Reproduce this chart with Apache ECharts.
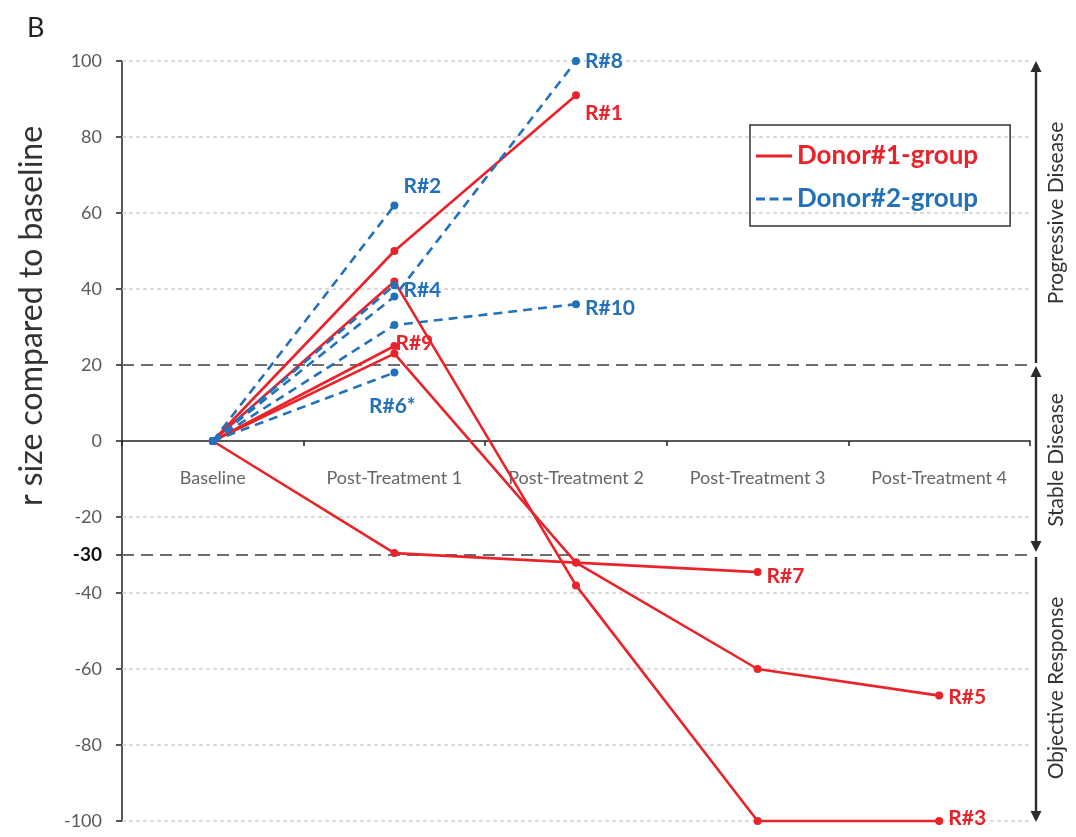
<!DOCTYPE html>
<html>
<head>
<meta charset="utf-8">
<script src="https://cdn.jsdelivr.net/npm/echarts@6/dist/echarts.min.js"></script>
<style>
  html, body { margin: 0; padding: 0; background: #ffffff; }
  #chart { width: 1076px; height: 837px; }
</style>
</head>
<body>
<div id="chart"></div>
<script>
// Time points along the x axis
const categories = ['Baseline', 'Post-Treatment 1', 'Post-Treatment 2', 'Post-Treatment 3', 'Post-Treatment 4'];

// Y axis tick values and reference levels
const yTicks = [100, 80, 60, 40, 20, 0, -20, -30, -40, -60, -80, -100];
const dottedLevels = [100, 80, 60, 40, -20, -40, -60, -80, -100];
const thresholdLevels = [20, -30];

// Donor#1 group: change in size (%) per time point
const r1 = [0, 50, 91];
const r3 = [0, 42, -38, -100, -100];
const r5 = [0, 23, -32, -60, -67];
const r7 = [0, -29.5, -32, -34.5];
const r9 = [0, 25];

// Donor#2 group
const r2 = [0, 62];
const r4 = [0, 41];
const r6 = [0, 18];
const r8 = [0, 38, 100];
const r10 = [0, 30.5, 36];

const donor1Names = ['R#1', 'R#3', 'R#5', 'R#7', 'R#9'];
const donor1Values = [r1, r3, r5, r7, r9];
const donor2Names = ['R#2', 'R#4', 'R#6*', 'R#8', 'R#10'];
const donor2Values = [r2, r4, r6, r8, r10];

const RED = '#e8232a';
const BLUE = '#2271b9';
const FONT = 'Lato, "Open Sans", sans-serif';

// Where each end label sits relative to its last point
const labelPlacement = {
  'R#1':  { position: 'right', offset: [0, 18] },
  'R#3':  { position: 'right', offset: [0, -3] },
  'R#5':  { position: 'right', offset: [0, 2] },
  'R#7':  { position: 'right', offset: [0, 4] },
  'R#9':  { position: 'right', offset: [-8, -3] },
  'R#2':  { position: 'right', offset: [0, -19] },
  'R#4':  { position: 'right', offset: [0, 5] },
  'R#6*': { position: 'bottom', offset: [-2, 14] },
  'R#8':  { position: 'right', offset: [0, 0] },
  'R#10': { position: 'right', offset: [0, 4] }
};

function buildSeries(groupName, names, valuesList, color, dashed) {
  return names.map(function (label, k) {
    const values = valuesList[k];
    const place = labelPlacement[label];
    return {
      name: groupName,
      type: 'line',
      z: dashed ? 4 : 3,
      clip: false,
      symbol: 'circle',
      symbolSize: 8,
      showSymbol: true,
      lineStyle: { color: color, width: 2.6, type: dashed ? [9, 6] : 'solid' },
      itemStyle: { color: color },
      emphasis: { disabled: true },
      data: values.map(function (v, i) {
        if (i !== values.length - 1) return v;
        return {
          value: v,
          label: {
            show: true,
            formatter: label,
            position: place.position,
            offset: place.offset,
            color: color,
            fontFamily: FONT,
            fontWeight: 'bold',
            fontSize: 21
          }
        };
      })
    };
  });
}

// Horizontal guide lines across the plot, kept beneath the data lines
const guideSeries = {
  name: 'guides',
  type: 'line',
  data: [],
  z: 1,
  silent: true,
  markLine: {
    z: 1,
    silent: true,
    symbol: ['none', 'none'],
    label: { show: false },
    animation: false,
    data: dottedLevels.map(function (v) {
      return { yAxis: v, lineStyle: { color: '#cfcfcf', width: 1.5, type: [4, 3] } };
    }).concat(thresholdLevels.map(function (v) {
      return { yAxis: v, lineStyle: { color: '#6e6e6e', width: 2, type: [12, 7] } };
    }))
  }
};

const chart = echarts.init(document.getElementById('chart'), null, { renderer: 'canvas' });

const GRID_TOP = 61, GRID_BOTTOM = 16;
const gridHeight = 837 - GRID_TOP - GRID_BOTTOM;

const option = {
  animation: false,
  backgroundColor: '#ffffff',
  grid: { left: 122, right: 46, top: GRID_TOP, bottom: GRID_BOTTOM, containLabel: false, outerBoundsMode: 'none' },
  legend: {
    orient: 'vertical',
    left: 750,
    top: 125,
    borderColor: '#333333',
    borderWidth: 1.5,
    padding: [18, 32, 14, 6],
    itemGap: 17,
    itemWidth: 36,
    itemHeight: 3,
    selectedMode: false,
    textStyle: { fontFamily: FONT, fontWeight: 'bold', fontSize: 26 },
    data: [
      { name: 'Donor#1-group', icon: 'path://M0,0h12v1h-12z',
        itemStyle: { color: RED, borderWidth: 0 }, textStyle: { color: RED } },
      { name: 'Donor#2-group', icon: 'path://M0,0h3v1h-3zM4.5,0h3v1h-3zM9,0h3v1h-3z',
        itemStyle: { color: BLUE, borderWidth: 0 }, textStyle: { color: BLUE } }
    ]
  },
  xAxis: {
    type: 'category',
    data: categories,
    boundaryGap: true,
    // the category axis sits on the zero line (middle of the -100..100 range)
    axisLine: { onZero: false, lineStyle: { color: '#222222', width: 1.5 } },
    offset: -gridHeight / 2,
    axisTick: { show: true, length: 5, lineStyle: { color: '#222222', width: 1.5 } },
    axisLabel: { interval: 0, hideOverlap: false, color: '#666666', fontFamily: FONT, fontSize: 18, margin: 28 },
    splitLine: { show: false }
  },
  yAxis: {
    type: 'value',
    min: -100,
    max: 100,
    interval: 10,
    axisLine: { show: true, lineStyle: { color: '#222222', width: 1.5 } },
    axisTick: { show: true, length: 6, customValues: yTicks, lineStyle: { color: '#222222', width: 1.5 } },
    axisLabel: {
      customValues: yTicks,
      color: '#5a5a5a',
      fontFamily: FONT,
      fontSize: 18,
      margin: 20,
      formatter: function (v) {
        return v === -30 ? '{b|' + v + '}' : String(v);
      },
      rich: { b: { color: '#111111', fontWeight: 'bold', fontSize: 19, fontFamily: FONT } }
    },
    splitLine: { show: false }
  },
  series: [guideSeries]
    .concat(buildSeries('Donor#1-group', donor1Names, donor1Values, RED, false))
    .concat(buildSeries('Donor#2-group', donor2Names, donor2Values, BLUE, true))
};

chart.setOption(option);

// Side annotations: response bands marked with arrows at the threshold levels
function py(v) { return chart.convertToPixel({ yAxisIndex: 0 }, v); }
const yTop = py(100), yPD = py(20), yOR = py(-30), yBot = py(-100);
const ax = 1036;
const ink = '#2b2b2b';

function arrowHead(x, y, up) {
  const h = 11, w = 5.5;
  const tip = y, base = up ? y + h : y - h;
  return { type: 'polygon', silent: true, shape: { points: [[x, tip], [x - w, base], [x + w, base]] }, style: { fill: ink } };
}
function vline(y1, y2) {
  return { type: 'line', silent: true, shape: { x1: ax, y1: y1, x2: ax, y2: y2 }, style: { stroke: ink, lineWidth: 2.4 } };
}
function sideText(text, yc) {
  return {
    type: 'text', silent: true, x: 1056, y: yc, rotation: Math.PI / 2,
    style: { text: text, fill: '#333333', fontFamily: FONT, fontSize: 21, align: 'center', verticalAlign: 'middle' }
  };
}

chart.setOption({
  graphic: [
    { type: 'text', silent: true, left: 27, top: 15,
      style: { text: 'B', fill: '#222222', fontFamily: FONT, fontSize: 27 } },
    { type: 'text', silent: true, x: 32, y: 316, rotation: Math.PI / 2,
      style: { text: 'r size compared to baseline', fill: '#333333', fontFamily: FONT, fontSize: 32, align: 'center', verticalAlign: 'middle' } },
    vline(yTop + 4, yPD - 2),
    arrowHead(ax, yTop, true),
    vline(yPD + 6, yOR - 6),
    arrowHead(ax, yPD + 1, true),
    arrowHead(ax, yOR - 3, false),
    vline(yOR + 2, yBot - 4),
    arrowHead(ax, yBot + 1, false),
    sideText('Progressive Disease', (yTop + yPD) / 2),
    sideText('Stable Disease', (yPD + yOR) / 2),
    sideText('Objective Response', (yOR + yBot) / 2)
  ]
});
</script>
</body>
</html>
